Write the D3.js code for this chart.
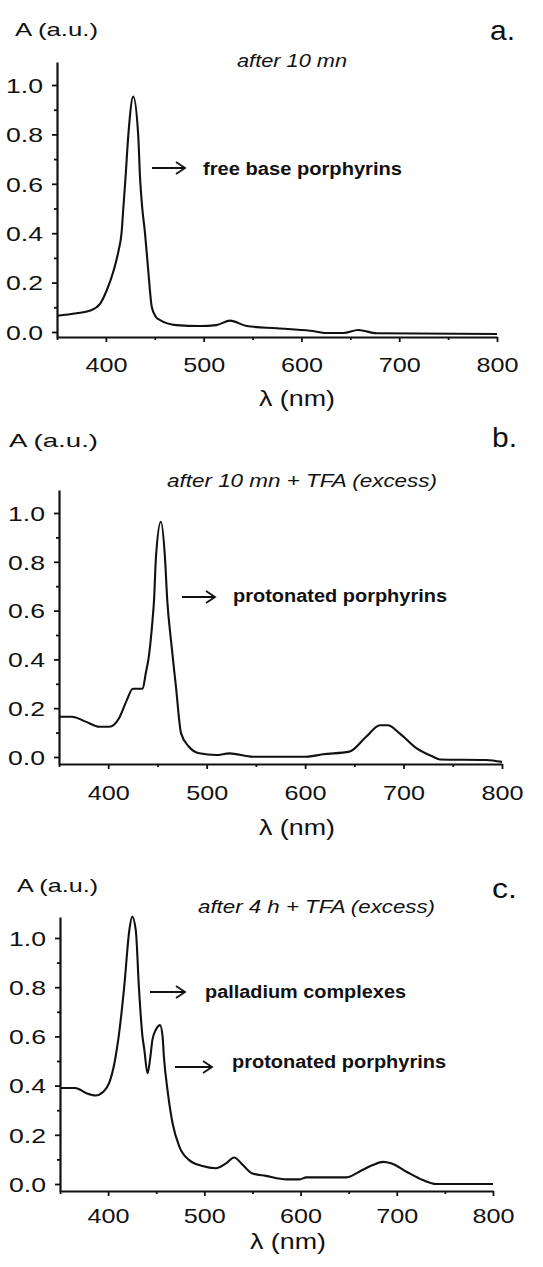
<!DOCTYPE html>
<html>
<head>
<meta charset="utf-8">
<script src="https://cdn.jsdelivr.net/npm/d3@7"></script>
<style>
  html, body { margin: 0; padding: 0; background: #fff; }
  svg { display: block; }
  text { font-family: "Liberation Sans", Arial, sans-serif; fill: #111; }
</style>
</head>
<body>
<svg id="chart" width="543" height="1267"></svg>
<script>
// ---------------- DATA ----------------
const xTickValues = [400, 500, 600, 700, 800];
const xMinorValues = [350, 450, 550, 650, 750];
const yTickValues = [0.0, 0.2, 0.4, 0.6, 0.8, 1.0];
const yMinorValues = [0.1, 0.3, 0.5, 0.7, 0.9];

const yLabel = "A (a.u.)";
const xLabel = "\u03BB (nm)";

const panelLetters = ["a.", "b.", "c."];
const panelTitles = ["after 10 mn", "after 10 mn + TFA (excess)", "after 4 h + TFA (excess)"];

// Panel a: after 10 mn (free base porphyrins)
const wavelengthA = [350, 370, 384, 394, 401, 408, 413, 416, 418, 420, 423, 428, 433, 435, 437, 440, 443, 447, 451, 455, 472, 496, 513, 527, 544, 575, 609, 626, 643, 658, 677, 800];
const absorbanceA = [0.066, 0.076, 0.087, 0.114, 0.17, 0.25, 0.33, 0.40, 0.51, 0.62, 0.80, 0.953, 0.80, 0.62, 0.51, 0.40, 0.264, 0.10, 0.062, 0.049, 0.028, 0.024, 0.028, 0.046, 0.024, 0.015, 0.005, -0.004, -0.004, 0.008, -0.005, -0.008];

// Panel b: after 10 mn + TFA (protonated porphyrins)
const wavelengthB = [350, 363, 377, 391, 401, 411, 419, 425, 435, 438, 441.5, 445, 446.5, 448.5, 453.5, 457.6, 460, 463.7, 468.8, 474, 482, 492.6, 509.6, 523, 547, 601, 618, 645, 662, 676, 684, 696, 713, 730, 737, 784, 800];
const absorbanceB = [0.165, 0.165, 0.145, 0.124, 0.124, 0.159, 0.234, 0.28, 0.28, 0.34, 0.42, 0.56, 0.64, 0.82, 0.964, 0.82, 0.64, 0.48, 0.288, 0.097, 0.042, 0.015, 0.008, 0.015, 0.001, 0.001, 0.011, 0.022, 0.083, 0.13, 0.13, 0.097, 0.036, 0.001, -0.01, -0.012, -0.02];

// Panel c: after 4 h + TFA (palladium complexes + protonated porphyrins)
const wavelengthC = [350, 366, 377, 387, 395, 401, 407, 411, 416.7, 422, 425, 428.8, 432, 435.7, 437.5, 441, 444, 446, 450, 454, 456.6, 458, 461.8, 467, 474, 484, 498, 512, 522.6, 531, 540, 550, 564, 585, 599, 606, 648, 661, 675, 686, 694, 710, 727, 741, 800];
const absorbanceC = [0.39, 0.39, 0.37, 0.36, 0.375, 0.41, 0.50, 0.60, 0.80, 1.03, 1.087, 1.03, 0.80, 0.60, 0.55, 0.45, 0.52, 0.585, 0.63, 0.646, 0.60, 0.517, 0.38, 0.247, 0.152, 0.098, 0.073, 0.064, 0.084, 0.108, 0.077, 0.043, 0.033, 0.019, 0.019, 0.027, 0.027, 0.05, 0.077, 0.09, 0.084, 0.05, 0.016, 0.0, 0.0];

const annotationTexts = [["free base porphyrins"], ["protonated porphyrins"], ["palladium complexes", "protonated porphyrins"]];

// ---------------- LAYOUT ----------------
const panels = [
  { wl: wavelengthA, ab: absorbanceA, xl: 57, xr: 497, y0: 332, y1: 85, yTop: 62, yBot: 337,
    yLab: { x: 15, y: 36, w: 83 }, letter: { x: 490, y: 40 }, title: { x: 237, y: 67, w: 110 },
    xLab: { x: 297, y: 406 }, tickLabY: 35,
    ann: [{ ax1: 152, ax2: 185, ay: 168, tx: 203, ty: 175, w: 199 }] },
  { wl: wavelengthB, ab: absorbanceB, xl: 59, xr: 502, y0: 757, y1: 513, yTop: 490, yBot: 764,
    yLab: { x: 9, y: 447, w: 89 }, letter: { x: 492, y: 447 }, title: { x: 167, y: 487, w: 270 },
    xLab: { x: 297, y: 835 }, tickLabY: 36,
    ann: [{ ax1: 182, ax2: 215, ay: 597, tx: 233, ty: 602, w: 214 }] },
  { wl: wavelengthC, ab: absorbanceC, xl: 60, xr: 493, y0: 1184, y1: 938, yTop: 917, yBot: 1191,
    yLab: { x: 17, y: 892, w: 81 }, letter: { x: 492, y: 898 }, title: { x: 198, y: 913, w: 237 },
    xLab: { x: 288, y: 1249 }, tickLabY: 32,
    ann: [{ ax1: 150, ax2: 185, ay: 992, tx: 205, ty: 998, w: 201 },
          { ax1: 175, ax2: 212, ay: 1067, tx: 232, ty: 1068, w: 214 }] }
];

const svg = d3.select("#chart");

panels.forEach((p, i) => {
  const g = svg.append("g");
  const x = d3.scaleLinear().domain([350, 800]).range([p.xl, p.xr]);
  const yRef = d3.scaleLinear().domain([0, 1]).range([p.y0, p.y1]);
  const y = d3.scaleLinear().domain([yRef.invert(p.yBot), yRef.invert(p.yTop)]).range([p.yBot, p.yTop]);

  // minor ticks
  g.append("g").attr("transform", `translate(${p.xl},0)`)
    .call(d3.axisLeft(y).tickValues(yMinorValues).tickSize(3).tickSizeOuter(0).tickFormat(""))
    .call(s => s.select(".domain").remove());
  g.append("g").attr("transform", `translate(0,${p.yBot})`)
    .call(d3.axisBottom(x).tickValues(xMinorValues).tickSize(3).tickSizeOuter(0).tickFormat(""))
    .call(s => s.select(".domain").remove());

  // major y axis
  const ya = g.append("g").attr("transform", `translate(${p.xl},0)`)
    .call(d3.axisLeft(y).tickValues(yTickValues).tickSize(5).tickSizeOuter(0).tickPadding(9).tickFormat(d3.format(".1f")));
  ya.selectAll("text").attr("font-size", 21).attr("dy", "0.35em")
    .attr("font-family", "Liberation Sans, Arial, sans-serif").attr("fill", "#111")
    .attr("textLength", 37).attr("lengthAdjust", "spacingAndGlyphs");

  // major x axis
  const xa = g.append("g").attr("transform", `translate(0,${p.yBot})`)
    .call(d3.axisBottom(x).tickValues(xTickValues).tickSize(5).tickSizeOuter(0).tickFormat(d3.format("d")));
  xa.selectAll("text").attr("font-size", 21).attr("y", p.tickLabY).attr("dy", 0)
    .attr("font-family", "Liberation Sans, Arial, sans-serif").attr("fill", "#111")
    .attr("textLength", 42).attr("lengthAdjust", "spacingAndGlyphs");

  g.selectAll(".domain").attr("stroke", "#111").attr("stroke-width", 2.2);
  g.selectAll(".tick line").attr("stroke", "#111").attr("stroke-width", 1.8);

  // spectrum line
  const data = p.wl.map((w, k) => [w, p.ab[k]]);
  g.append("path").datum(data)
    .attr("fill", "none").attr("stroke", "#111").attr("stroke-width", 2.1)
    .attr("stroke-linejoin", "round")
    .attr("d", d3.line().x(d => x(d[0])).y(d => y(d[1])).curve(d3.curveMonotoneX));

  // y label
  g.append("text").attr("x", p.yLab.x).attr("y", p.yLab.y).attr("font-size", 19)
    .attr("textLength", p.yLab.w).attr("lengthAdjust", "spacingAndGlyphs").text(yLabel);
  // letter
  g.append("text").attr("x", p.letter.x).attr("y", p.letter.y).attr("font-size", 28)
    .attr("textLength", 25).attr("lengthAdjust", "spacingAndGlyphs").text(panelLetters[i]);
  // title
  g.append("text").attr("x", p.title.x).attr("y", p.title.y).attr("font-size", 18)
    .attr("font-style", "italic")
    .attr("textLength", p.title.w).attr("lengthAdjust", "spacingAndGlyphs").text(panelTitles[i]);
  // x label
  g.append("text").attr("x", p.xLab.x).attr("y", p.xLab.y).attr("font-size", 22)
    .attr("text-anchor", "middle").attr("textLength", 76).attr("lengthAdjust", "spacingAndGlyphs")
    .text(xLabel);

  // annotations
  p.ann.forEach((a, k) => {
    g.append("path")
      .attr("d", `M${a.ax1},${a.ay}H${a.ax2}M${a.ax2 - 9},${a.ay - 6}L${a.ax2},${a.ay}L${a.ax2 - 9},${a.ay + 6}`)
      .attr("fill", "none").attr("stroke", "#111").attr("stroke-width", 1.8);
    g.append("text").attr("x", a.tx).attr("y", a.ty).attr("font-size", 18)
      .attr("font-weight", "bold")
      .attr("textLength", a.w).attr("lengthAdjust", "spacingAndGlyphs").text(annotationTexts[i][k]);
  });
});
</script>
</body>
</html>
